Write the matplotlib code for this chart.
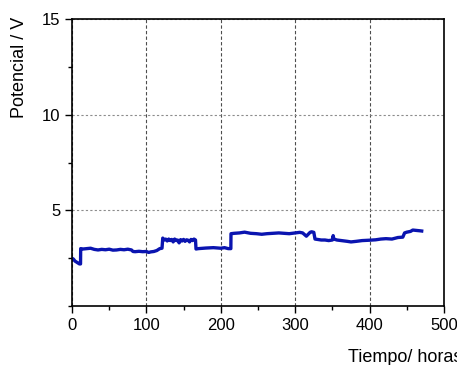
import matplotlib.pyplot as plt
from matplotlib.ticker import MultipleLocator

plt.rcParams['font.family'] = ['Liberation Sans', 'DejaVu Sans']

# Tiempo (horas) y potencial (V)
tiempo = [0, 2, 4, 6, 8, 10, 11.5, 11.7, 15, 20, 25, 30, 35, 40, 45, 50, 55, 60,
          65, 70, 75, 80, 82, 85, 90, 95, 100, 103, 106, 110, 114, 118, 121, 122,
          124, 126, 128, 130, 132, 134, 136, 138, 140, 142, 144, 146, 148, 150,
          152, 154, 156, 158, 160, 162, 164, 166, 166.7, 170, 180, 190, 200, 205,
          210, 213.5, 213.7, 218, 225, 232, 240, 248, 255, 262, 270, 278, 285, 292,
          300, 306, 310, 315, 320, 322, 325, 326.6, 330, 335, 340, 345, 350, 351,
          352, 356, 362, 370, 375, 382, 390, 400, 408, 415, 422, 430, 438, 444.6,
          447, 450, 455, 458, 463, 468, 470]
potencial = [2.5, 2.45, 2.35, 2.3, 2.25, 2.2, 2.2, 3.0, 2.98, 3.0, 3.02, 2.96, 2.93,
             2.96, 2.94, 2.97, 2.92, 2.93, 2.96, 2.94, 2.97, 2.93, 2.85, 2.84, 2.86,
             2.84, 2.85, 2.8, 2.83, 2.85, 2.9, 3.0, 3.02, 3.55, 3.45, 3.5, 3.4,
             3.5, 3.42, 3.48, 3.35, 3.5, 3.42, 3.45, 3.3, 3.47, 3.4, 3.48, 3.38, 3.46,
             3.44, 3.35, 3.48, 3.42, 3.5, 3.45, 2.98, 3.0, 3.03, 3.05, 3.02, 3.05,
             3.0, 3.0, 3.78, 3.8, 3.82, 3.86, 3.8, 3.78, 3.75, 3.78, 3.8, 3.82,
             3.8, 3.78, 3.82, 3.85, 3.82, 3.65, 3.85, 3.88, 3.85, 3.5, 3.48, 3.45,
             3.45, 3.42, 3.45, 3.68, 3.5, 3.45, 3.42, 3.38, 3.35, 3.38, 3.42, 3.44,
             3.46, 3.5, 3.52, 3.5, 3.58, 3.6, 3.82, 3.86, 3.9, 3.97, 3.95, 3.93, 3.92]

fig = plt.figure(figsize=(4.57, 3.65), dpi=100)
ax = fig.add_axes([0.1575, 0.1616, 0.8141, 0.7863])

ax.plot(tiempo, potencial, color='#0A14B0', linewidth=2.4, solid_joinstyle='round')

ax.set_xlim(0, 500)
ax.set_ylim(0, 15)
ax.xaxis.set_major_locator(MultipleLocator(100))
ax.xaxis.set_minor_locator(MultipleLocator(50))
ax.yaxis.set_major_locator(MultipleLocator(5))
ax.yaxis.set_minor_locator(MultipleLocator(2.5))
ax.set_yticks([5, 10, 15])

ax.xaxis.grid(True, which='major', linestyle=(0, (3, 2)), color='0.3', linewidth=0.8)
ax.yaxis.grid(True, which='major', linestyle=(0, (2, 2)), color='0.55', linewidth=0.8)
ax.tick_params(which='major', direction='out', length=5, width=1, labelsize=12,
               top=False, right=False)
ax.tick_params(which='minor', direction='out', length=3, width=1,
               top=False, right=False)
for s in ax.spines.values():
    s.set_linewidth(1.2)

ax.set_ylabel('Potencial / V', fontsize=13, va='center')
ax.yaxis.set_label_coords(-0.14, 0.833)
ax.set_xlabel('Tiempo/ horas', fontsize=13, ha='left', va='top')
ax.xaxis.set_label_coords(0.742, -0.15)

fig.savefig('out.png', dpi=100)
